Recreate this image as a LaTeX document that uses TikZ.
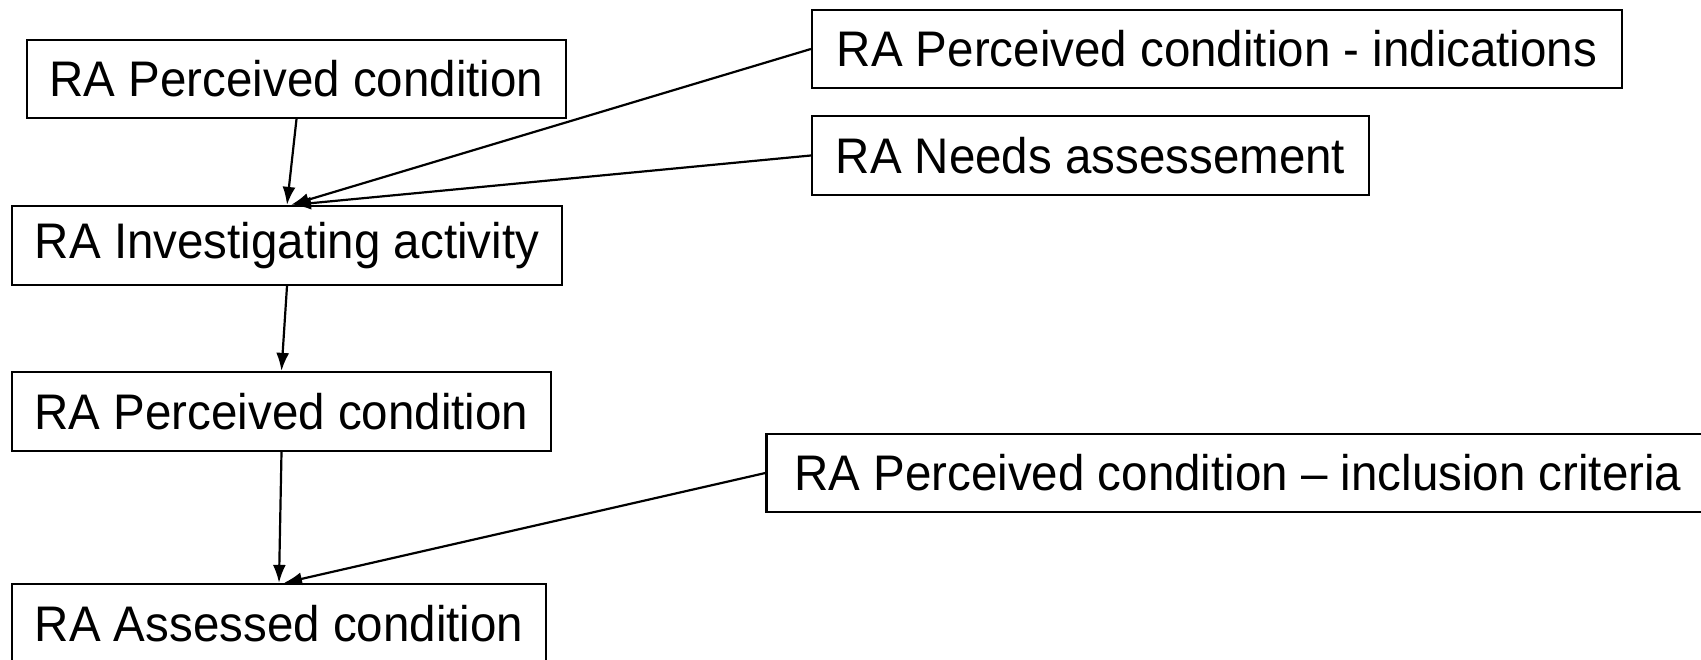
\documentclass[tikz,border=0pt]{standalone}
\usepackage{fontspec}
\setmainfont[FakeStretch=0.95]{Liberation Sans}
\usetikzlibrary{arrows.meta}
\begin{document}
\begin{tikzpicture}[x=1pt,y=1pt,
  box/.style={draw,line width=2.2pt,inner sep=0pt,font=\fontsize{50}{58}\selectfont},
  conn/.style={line width=2.2pt,-{Latex[length=18pt,width=13pt]}}]
\clip (0,0) rectangle (1701,660);
\fill[white] (0,0) rectangle (1701,660);
\node[box,minimum width=539,minimum height=78] (b1) at (296.5,581) {RA Perceived condition};
\node[box,minimum width=550,minimum height=79] (b2) at (287,414.5) {RA Investigating activity};
\node[box,minimum width=539,minimum height=79] (b3) at (281.5,248.5) {RA Perceived condition};
\node[box,minimum width=534,minimum height=79] (b4) at (279,36.5) {RA Assessed condition};
\node[box,minimum width=810,minimum height=78] (b5) at (1217,611) {RA Perceived condition - indications};
\node[box,minimum width=557,minimum height=79] (b6) at (1090.5,504.5) {RA Needs assessement};
\node[box,minimum width=943,minimum height=78] (b7) at (1238,187) {RA Perceived condition -- inclusion criteria};
\draw[conn] (b1.south) -- (b2.north);
\draw[conn] (b5.west) -- ([xshift=4]b2.north);
\draw[conn] (b6.west) -- ([xshift=6]b2.north);
\draw[conn] (b2.south) -- (b3.north);
\draw[conn] (b3.south) -- (b4.north);
\draw[conn] (b7.west) -- ([xshift=5]b4.north);
\end{tikzpicture}
\end{document}
